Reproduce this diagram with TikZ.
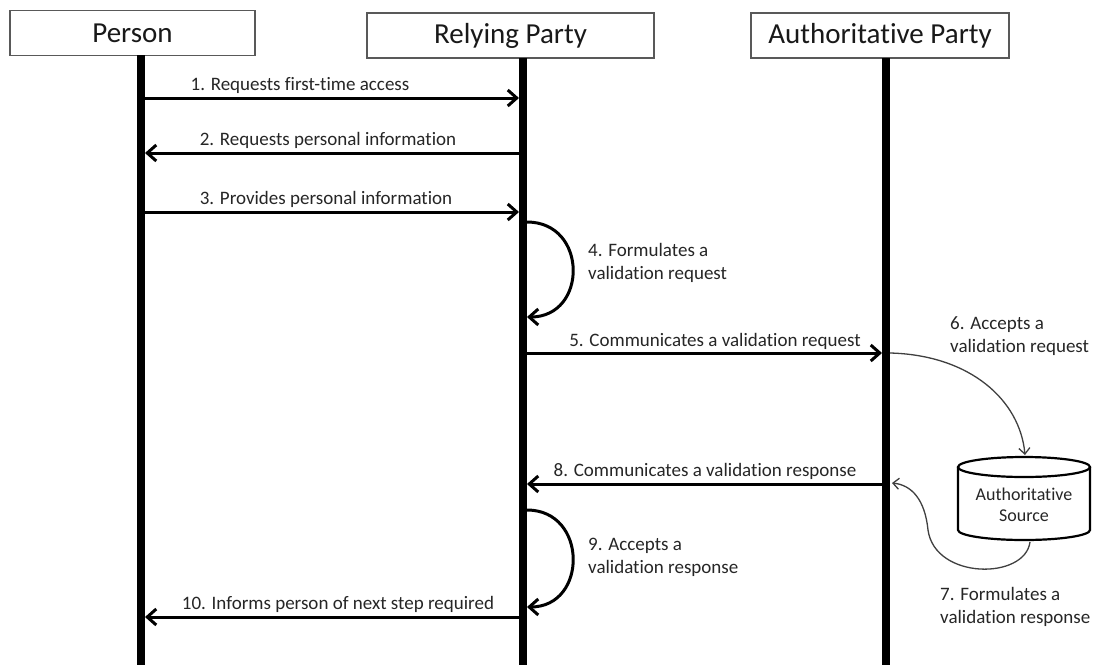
\documentclass[tikz,border=0pt]{standalone}
\usepackage{fontspec}
\setmainfont{Carlito}[Ligatures={NoCommon}]
\usetikzlibrary{arrows.meta,calc}
\begin{document}
\begin{tikzpicture}[x=1pt,y=-1pt,
  hdr/.style={draw=black!65, line width=1.2pt, fill=white, font=\fontsize{29}{32}\selectfont, text=black!90, inner sep=0pt},
  life/.style={line width=8pt},
  msg/.style={line width=3pt, -{Straight Barb[length=9pt,width=16pt,line width=3pt]}},
  lbl/.style={font=\fontsize{19}{23}\selectfont, text=black!85, inner sep=0pt},
  thinarr/.style={line width=1.3pt, draw=black!75, -{Straight Barb[length=6pt,width=11pt,line width=1.3pt]}}]
\useasboundingbox (0,0) rectangle (1093,665);
\fill[white] (0,0) rectangle (1093,665);

% headers
\node[hdr, minimum width=245pt, minimum height=45pt] (person) at (132.5,33) {Person};
\node[hdr, minimum width=287pt, minimum height=45pt] (rp) at (510.5,35.5) {Relying Party};
\node[hdr, minimum width=258pt, minimum height=45pt] (ap) at (880,35.5) {Authoritative Party};

% lifelines
\coordinate (pT) at (141,55);  \coordinate (pB) at (141,665);
\coordinate (rT) at (523,58);  \coordinate (rB) at (523,665);
\coordinate (aT) at (886,58);  \coordinate (aB) at (886,665);
\draw[life] (pT) -- (pB);
\draw[life] (rT) -- (rB);
\draw[life] (aT) -- (aB);

% message endpoints
\coordinate (p1) at (145,98);  \coordinate (r1) at (519,98);
\coordinate (p2) at (145,153); \coordinate (r2) at (519,153);
\coordinate (p3) at (145,212); \coordinate (r3) at (519,212);
\coordinate (r4a) at (527,222); \coordinate (r4b) at (527,317);
\coordinate (r5) at (527,353); \coordinate (a5) at (882,353);
\coordinate (a6) at (890,353);
\coordinate (r8) at (527,484); \coordinate (a8) at (882,484);
\coordinate (a7) at (892,483);
\coordinate (r9a) at (527,510); \coordinate (r9b) at (527,607);
\coordinate (p10) at (145,617); \coordinate (r10) at (519,617);

\draw[msg] (p1) -- (r1);
\draw[msg] (r2) -- (p2);
\draw[msg] (p3) -- (r3);
\draw[msg] (r4a) .. controls (588,222) and (588,317) .. (r4b);
\draw[msg] (r5) -- (a5);
\draw[msg] (a8) -- (r8);
\draw[msg] (r9a) .. controls (588,510) and (588,607) .. (r9b);
\draw[msg] (r10) -- (p10);

\node[lbl] (l1) at (300,85) {1. Requests first-time access};
\node[lbl] (l2) at (328,140) {2. Requests personal information};
\node[lbl] (l3) at (326,199) {3. Provides personal information};
\node[lbl, anchor=west, align=left] (l4) at (588,263) {4. Formulates a\\validation request};
\node[lbl] (l5) at (715,341) {5. Communicates a validation request};
\node[lbl, anchor=west, align=left] (l6) at (950,336) {6. Accepts a\\validation request};
\node[lbl, anchor=west, align=left] (l7) at (940,607) {7. Formulates a\\validation response};
\node[lbl] (l8) at (705,471) {8. Communicates a validation response};
\node[lbl, anchor=west, align=left] (l9) at (588,557) {9. Accepts a\\validation response};
\node[lbl] (l10) at (338,604) {10. Informs person of next step required};

% authoritative source cylinder
\draw[line width=2.2pt] (958,467) -- (958,530) arc[start angle=180, end angle=0, x radius=66, y radius=10] -- (1090,467);
\draw[line width=2.2pt] (1024,467) ellipse [x radius=66, y radius=10];
\node[lbl, font=\fontsize{18}{21}\selectfont, align=center] (src) at (1024,505) {Authoritative\\Source};
\coordinate (srcTop) at (1025,455);
\coordinate (srcBot) at (1030,542);

\draw[thinarr] (a6) .. controls (970,355) and (1020,400) .. (srcTop);
\draw[thinarr] (srcBot) .. controls (1025,580) and (935,580) .. (928,530) .. controls (925,500) and (912,485) .. (a7);
\end{tikzpicture}
\end{document}
